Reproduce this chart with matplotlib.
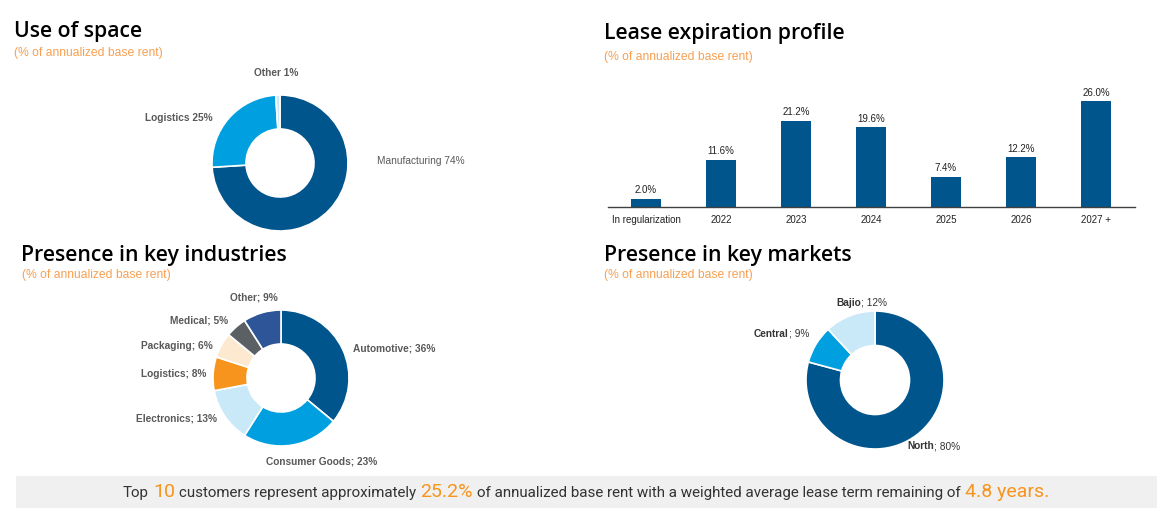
import matplotlib
matplotlib.use("Agg")
import matplotlib.pyplot as plt
from matplotlib.patches import Rectangle
from matplotlib.offsetbox import TextArea, HPacker, AnnotationBbox

# ---------------- data ----------------
space_labels = ["Manufacturing", "Logistics", "Other"]
space_values = [74, 25, 1]

lease_categories = ["In regularization", "2022", "2023", "2024", "2025", "2026", "2027 +"]
lease_values = [2.0, 11.6, 21.2, 19.6, 7.4, 12.2, 26.0]

industry_labels = ["Automotive", "Consumer Goods", "Electronics", "Logistics",
                   "Packaging", "Medical", "Other"]
industry_values = [36, 23, 13, 8, 6, 5, 9]

market_labels = ["North", "Central", "Bajio"]
market_values = [80, 9, 12]

footer_parts = [("Top", False), ("10", True), ("customers represent approximately", False),
                ("25.2%", True), ("of annualized base rent with a weighted average lease term remaining of", False),
                ("4.8 years.", True)]

# ---------------- styles ----------------
W, H = 1162, 509
DARK = "#00558C"
BLUE = "#00A0E0"
PALE = "#C9E9F8"
ORANGE = "#F7941D"
PEACH = "#FDE8D0"
GRAY = "#5B6064"
NAVY = "#2E5597"
SUB = "#F7A052"
LBL = "#595959"

space_colors = [DARK, BLUE, PALE]
industry_colors = [DARK, BLUE, PALE, ORANGE, PEACH, GRAY, NAVY]
market_colors = [DARK, BLUE, PALE]

space_lpos = [(1.43, 0.03, "left"), (-0.99, 0.66, "right"), (-0.06, 1.32, "center")]
space_bold = [False, True, True]
industry_lpos = [(1.06, 0.44, "left"), (0.60, -1.23, "center"), (-0.94, -0.59, "right"),
                 (-1.10, 0.06, "right"), (-1.00, 0.47, "right"), (-0.78, 0.85, "right"),
                 (-0.40, 1.18, "center")]
market_lpos = [(0.464, -0.957, "left"), (-0.957, 0.667, "right"), (-0.196, 1.116, "center")]

fig = plt.figure(figsize=(W / 100, H / 100), dpi=100)
fig.patch.set_facecolor("white")
renderer = fig.canvas.get_renderer()

TITLE_FONT = ["Open Sans", "DejaVu Sans"]
BODY_FONT = ["Liberation Sans", "DejaVu Sans"]
LFS = 7.3


def px_axes(cx, cy, r):
    return fig.add_axes([(cx - r) / W, (H - cy - r) / H, 2 * r / W, 2 * r / H])


def donut(cx, cy, r, values, colors):
    ax = px_axes(cx, cy, r)
    ax.pie(values, colors=colors, startangle=90, counterclock=False, radius=1,
           wedgeprops=dict(width=0.5, edgecolor="white", linewidth=1.2))
    ax.set_xlim(-1, 1)
    ax.set_ylim(-1, 1)
    ax.set_aspect("equal")
    ax.axis("off")
    return ax


def label(ax, x, y, ha, text, bold, color=LBL):
    return ax.text(x, y, text, ha=ha, va="center", fontsize=LFS, family=BODY_FONT,
                   color=color, fontweight="bold" if bold else "normal", clip_on=False)


def two_part_label(ax, x, y, ha, name, rest, color="#333333"):
    kw = dict(fontsize=LFS, family=BODY_FONT, color=color, va="baseline", clip_on=False)
    t1 = ax.text(0, 0, name, fontweight="bold", **kw)
    t2 = ax.text(0, 0, rest, fontweight="normal", **kw)
    w1 = t1.get_window_extent(renderer).width
    w2 = t2.get_window_extent(renderer).width
    inv = ax.transData.inverted()
    xd, yd = ax.transData.transform((x, y))
    total = w1 + w2
    start = {"left": xd, "right": xd - total, "center": xd - total / 2}[ha]
    base = yd - 3.0
    t1.set_position(inv.transform((start, base)))
    t2.set_position(inv.transform((start + w1, base)))


# ---------------- titles ----------------
def title(x, y, t):
    fig.text(x / W, 1 - y / H, t, fontsize=15.3, family=TITLE_FONT, fontweight="semibold",
             color="black", va="center", ha="left")


def subtitle(x, y):
    fig.text(x / W, 1 - y / H, "(% of annualized base rent)", fontsize=8.7,
             family=BODY_FONT, color=SUB, va="center", ha="left")


title(14, 32, "Use of space")
subtitle(14, 53)
title(604, 33, "Lease expiration profile")
subtitle(604, 57)
title(21, 256, "Presence in key industries")
subtitle(22, 275)
title(604, 256, "Presence in key markets")
subtitle(604, 275)

# ---------------- Use of space ----------------
ax1 = donut(280, 163, 68, space_values, space_colors)
for (x, y, ha), n, v, b in zip(space_lpos, space_labels, space_values, space_bold):
    label(ax1, x, y, ha, f"{n} {v}%", b)

# ---------------- Industries ----------------
ax3 = donut(281, 378, 68, industry_values, industry_colors)
for (x, y, ha), n, v in zip(industry_lpos, industry_labels, industry_values):
    label(ax3, x, y, ha, f"{n}; {v}%", True)

# ---------------- Markets ----------------
ax4 = donut(875, 380, 69, market_values, market_colors)
for (x, y, ha), n, v in zip(market_lpos, market_labels, market_values):
    two_part_label(ax4, x, y, ha, n, f"; {v}%")

# ---------------- Lease expiration bars ----------------
ax2 = fig.add_axes([608 / W, (H - 207) / H, 527 / W, 122 / H])
xs = list(range(len(lease_categories)))
bars = ax2.bar(xs, lease_values, width=0.4, color=DARK)
ax2.set_xlim(-0.507, 6.52)
ax2.set_ylim(0, 30)
for s in ["top", "right", "left"]:
    ax2.spines[s].set_visible(False)
ax2.spines["bottom"].set_color("#404040")
ax2.spines["bottom"].set_linewidth(1.0)
ax2.set_yticks([])
ax2.set_xticks(xs)
ax2.set_xticklabels(lease_categories, fontsize=7.0, family=BODY_FONT, color="#222222")
ax2.tick_params(axis="x", length=0, pad=6)
for b, v in zip(bars, lease_values):
    ax2.annotate(f"{v:.1f}%", (b.get_x() + b.get_width() / 2, v), xytext=(0, 2.5),
                 textcoords="offset points", ha="center", va="bottom",
                 fontsize=7.0, family=BODY_FONT, color="#222222")
ax2.patch.set_visible(False)

# ---------------- footer ----------------
fig.patches.append(Rectangle((16 / W, 1 - 508 / H), (1157 - 16) / W, 32 / H,
                             transform=fig.transFigure, facecolor="#F0F0F0",
                             edgecolor="none", zorder=0))
kids = []
for t, hl in footer_parts:
    kids.append(TextArea(t, textprops=dict(
        fontsize=14 if hl else 10.9, family=["Roboto", "DejaVu Sans"],
        color=ORANGE if hl else "#333333")))
pack = HPacker(children=kids, align="baseline", pad=0, sep=3)
ab = AnnotationBbox(pack, (586 / W, 1 - 492 / H), xycoords="figure fraction",
                    box_alignment=(0.5, 0.5), frameon=False, pad=0)
fig.add_artist(ab)

fig.savefig("out.png", dpi=100, facecolor="white")
